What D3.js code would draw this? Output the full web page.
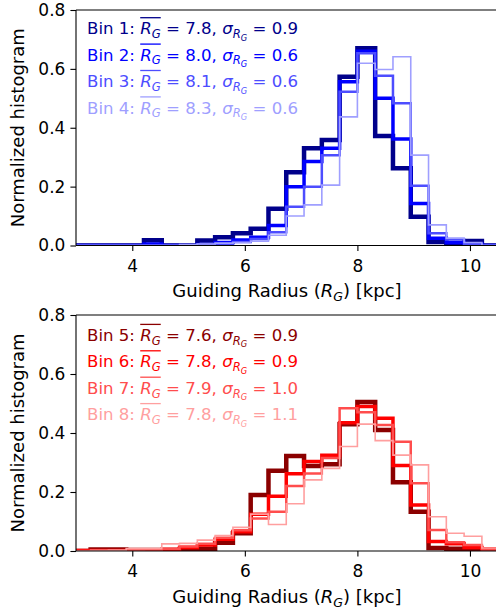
<!DOCTYPE html>
<html><head><meta charset="utf-8">
<script src="https://cdn.jsdelivr.net/npm/d3@7"></script>
<style>body{margin:0;background:#fff} svg{display:block} text{font-family:"DejaVu Sans",sans-serif}</style>
</head><body>
<svg id="c" width="496" height="612"></svg>
<script>
// ---------- data ----------
const binEdges = [2.944, 3.26, 3.576, 3.892, 4.208, 4.524, 4.84, 5.156, 5.472, 5.788, 6.104, 6.42, 6.736, 7.052, 7.368, 7.684, 8.0, 8.316, 8.632, 8.948, 9.264, 9.58, 9.896, 10.212, 10.528, 10.844];
const bin1 = [0,0,0,0,0.018,0,0,0.017,0.028,0.042,0.057,0.125,0.249,0.33,0.358,0.573,0.67,0.372,0.262,0.098,0.012,0.008,0.015,0,0];
const bin2 = [0,0,0,0,0.005,0,0,0.003,0.01,0.019,0.028,0.068,0.2,0.285,0.33,0.556,0.66,0.5,0.362,0.143,0.025,0.01,0.005,0,0];
const bin3 = [0,0,0,0,0,0,0,0.003,0.006,0.012,0.022,0.045,0.132,0.2,0.307,0.522,0.653,0.577,0.483,0.203,0.042,0.02,0.005,0,0];
const bin4 = [0,0,0,0,0,0,0.003,0.005,0.008,0.01,0.015,0.035,0.1,0.138,0.205,0.437,0.619,0.598,0.641,0.307,0.07,0.025,0.01,0,0];
const bin5 = [0,0.005,0.005,0.003,0.003,0.003,0.005,0.008,0.028,0.06,0.19,0.272,0.322,0.288,0.294,0.43,0.505,0.41,0.233,0.133,0.01,0.008,0.003,0,0];
const bin6 = [0.002,0.002,0.002,0.002,0.003,0.005,0.012,0.02,0.04,0.065,0.125,0.186,0.262,0.303,0.325,0.435,0.49,0.45,0.29,0.156,0.032,0.025,0.012,0.008,0.005];
const bin7 = [0,0,0,0.003,0.005,0.008,0.015,0.025,0.045,0.07,0.11,0.133,0.22,0.263,0.315,0.484,0.47,0.427,0.37,0.23,0.071,0.03,0.02,0.005,0];
const bin8 = [0,0.002,0.003,0.008,0.008,0.024,0.026,0.037,0.052,0.08,0.125,0.09,0.16,0.241,0.28,0.354,0.43,0.374,0.325,0.292,0.116,0.06,0.05,0.01,0];
const topNames = ["Bin 1", "Bin 2", "Bin 3", "Bin 4"];
const topMeans = ["7.8", "8.0", "8.1", "8.3"];
const topSigmas = ["0.9", "0.6", "0.6", "0.6"];
const botNames = ["Bin 5", "Bin 6", "Bin 7", "Bin 8"];
const botMeans = ["7.6", "7.8", "7.9", "7.8"];
const botSigmas = ["0.9", "0.9", "1.0", "1.1"];
const xTicks = [4, 6, 8, 10];
const yTicks = [0.0, 0.2, 0.4, 0.6, 0.8];
const xDomain = [3, 10.5];
const yDomain = [0, 0.8];

// ---------- styles ----------
const blueColors = ["#00008b", "#0000ff", "#4d4dff", "#9f9fff"];
const redColors = ["#8b0000", "#ff0000", "#ff4d4d", "#ff9f9f"];
const lineWidths = [4.5, 3.5, 2.5, 1.6];
const LEG_FS = 16.6, TICK_FS = 17, LABEL_FS = 18;

const svg = d3.select("#c");

function richText(g, x, y, pieces, fill, anchor, fs) {
  const t = g.append("text").attr("x", x).attr("y", y).attr("fill", fill)
    .attr("font-size", fs).attr("text-anchor", anchor || "start");
  let cur = 0, idx = 0;
  const marks = [];
  pieces.forEach(p => {
    const lvl = p.sub || 0;
    const size = lvl === 0 ? fs : (lvl === 1 ? fs * 0.7 : fs * 0.5);
    const off = lvl === 0 ? 0 : (lvl === 1 ? fs * 0.225 : fs * 0.39);
    const ts = t.append("tspan").text(p.t).attr("font-size", size)
      .attr("dy", off - cur);
    if (p.it) ts.attr("font-style", "italic");
    cur = off;
    marks.push({start: idx, end: idx + p.t.length - 1, ol: p.ol});
    idx += p.t.length;
  });
  const node = t.node();
  const olIdx = marks.map((m, i) => m.ol ? i : -1).filter(i => i >= 0);
  if (olIdx.length) {
    const s = marks[olIdx[0]].start, e = marks[olIdx[olIdx.length - 1]].end;
    const x0 = node.getStartPositionOfChar(s).x;
    const x1 = node.getEndPositionOfChar(e).x;
    g.append("line").attr("x1", x0).attr("x2", x1)
      .attr("y1", y - fs * 1.0).attr("y2", y - fs * 1.0)
      .attr("stroke", fill).attr("stroke-width", 1.3);
  }
  return t;
}

function legendPieces(name, mean, sigma) {
  return [
    {t: name + ": "},
    {t: "R", it: true, ol: true},
    {t: "G", it: true, sub: 1, ol: true},
    {t: " = " + mean + ", "},
    {t: "σ", it: true},
    {t: "R", it: true, sub: 1},
    {t: "G", it: true, sub: 2},
    {t: " = " + sigma}
  ];
}

function panel(id, yTop, yBot, seriesList, colors, names, means, sigmas, legendY) {
  const x = d3.scaleLinear().domain(xDomain).range([76, 498.1]);
  const y = d3.scaleLinear().domain(yDomain).range([yBot, yTop]);
  const g = svg.append("g");
  g.append("clipPath").attr("id", "clip" + id).append("rect")
    .attr("x", 76).attr("y", yTop).attr("width", 422.1).attr("height", yBot - yTop);

  const line = d3.line().x(d => x(d[0])).y(d => y(d[1]));
  const plot = g.append("g").attr("clip-path", `url(#clip${id})`);
  seriesList.forEach((vals, si) => {
    const pts = [[binEdges[0], 0]];
    vals.forEach((v, i) => { pts.push([binEdges[i], v]); pts.push([binEdges[i + 1], v]); });
    pts.push([binEdges[binEdges.length - 1], 0]);
    plot.append("path").attr("d", line(pts)).attr("fill", "none")
      .attr("stroke", colors[si]).attr("stroke-width", lineWidths[si])
      .attr("stroke-linejoin", "miter").attr("stroke-miterlimit", 10);
  });

  g.append("line").attr("x1", 76).attr("x2", 498.1).attr("y1", yTop).attr("y2", yTop)
    .attr("stroke", "#000").attr("stroke-width", 1.1);
  const xa = g.append("g").attr("transform", `translate(0,${yBot})`)
    .call(d3.axisBottom(x).tickValues(xTicks).tickSize(5.6).tickPadding(8.8).tickFormat(d3.format("d")));
  const ya = g.append("g").attr("transform", "translate(76,0)")
    .call(d3.axisLeft(y).tickValues(yTicks).tickSize(5.6).tickPadding(5.0).tickFormat(d3.format(".1f")));
  [xa, ya].forEach(a => {
    a.select(".domain").attr("stroke-width", 1.1);
    a.selectAll(".tick line").attr("stroke-width", 1.1);
    a.selectAll("text").attr("font-size", TICK_FS).attr("font-family", "DejaVu Sans").attr("fill", "#000");
  });
  xa.select(".domain").attr("d", `M76,0H498.1`);
  ya.select(".domain").attr("d", `M0,${yBot}V${yTop}`);

  richText(g, 287, yBot + 51.5, [
    {t: "Guiding Radius ("}, {t: "R", it: true}, {t: "G", it: true, sub: 1}, {t: ") [kpc]"}
  ], "#000", "middle", LABEL_FS);
  g.append("text").attr("transform", `translate(23.5,${(yTop + yBot) / 2}) rotate(-90)`)
    .attr("text-anchor", "middle").attr("font-size", LABEL_FS).attr("fill", "#000")
    .text("Normalized histogram");

  names.forEach((n, i) => {
    richText(g, 87, legendY + i * 26.4, legendPieces(n, means[i], sigmas[i]), colors[i], "start", LEG_FS);
  });
}

panel("a", 10, 245.5, [bin1, bin2, bin3, bin4], blueColors, topNames, topMeans, topSigmas, 34.3);
panel("b", 315, 551, [bin5, bin6, bin7, bin8], redColors, botNames, botMeans, botSigmas, 341);
</script>
</body></html>
